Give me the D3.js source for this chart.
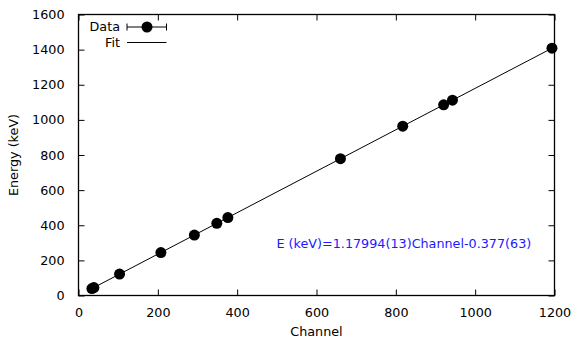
<!DOCTYPE html>
<html>
<head>
<meta charset="utf-8">
<script src="https://cdn.jsdelivr.net/npm/d3@7"></script>
<style>
  html, body { margin: 0; padding: 0; background: #fff; }
  svg { display: block; }
  text { font-family: "DejaVu Sans", sans-serif; }
</style>
</head>
<body>
<svg id="chart" width="572" height="343"></svg>
<script>
// Calibration peaks: channel position and known gamma energy (keV)
const channels = [33.8, 38.8, 103.5, 207.7, 292.1, 348.7, 376.5, 660.4, 817.4, 920.5, 942.8, 1193.6];
const energies = [39.5, 45.4, 121.8, 244.7, 344.3, 411.1, 443.9, 778.9, 964.1, 1085.8, 1112.1, 1408.0];

// Linear fit result
const slope = 1.17994;
const intercept = -0.377;
const fitLabel = "E (keV)=1.17994(13)Channel-0.377(63)";

const xTicks = [0, 200, 400, 600, 800, 1000, 1200];
const yTicks = [0, 200, 400, 600, 800, 1000, 1200, 1400, 1600];

const svg = d3.select("#chart");
const m = { left: 78.5, right: 554.5, top: 14.5, bottom: 295.5 };
const fs = "12.75px";

const x = d3.scaleLinear().domain([0, 1200]).range([m.left, m.right]);
const y = d3.scaleLinear().domain([0, 1600]).range([m.bottom, m.top]);

const tickLen = 6;
const fmt = d3.format("d");

// axes with inward ticks on all four sides
const axB = svg.append("g").attr("transform", `translate(0,${m.bottom})`)
  .call(d3.axisBottom(x).tickValues(xTicks).tickFormat(fmt).tickSizeInner(-tickLen).tickSizeOuter(0).tickPadding(tickLen + 6));
const axT = svg.append("g").attr("transform", `translate(0,${m.top})`)
  .call(d3.axisTop(x).tickValues(xTicks).tickSizeInner(-tickLen).tickSizeOuter(0).tickFormat(""));
const axL = svg.append("g").attr("transform", `translate(${m.left},0)`)
  .call(d3.axisLeft(y).tickValues(yTicks).tickFormat(fmt).tickSizeInner(-tickLen).tickSizeOuter(0).tickPadding(tickLen + 8));
const axR = svg.append("g").attr("transform", `translate(${m.right},0)`)
  .call(d3.axisRight(y).tickValues(yTicks).tickSizeInner(-tickLen).tickSizeOuter(0).tickFormat(""));

[axB, axT, axL, axR].forEach(g => {
  g.select(".domain").remove();
  g.selectAll(".tick line").attr("stroke", "#000").attr("stroke-width", 1);
  g.selectAll(".tick text").attr("font-size", fs).attr("fill", "#000")
    .attr("font-family", "DejaVu Sans, sans-serif");
});

// frame
svg.append("rect")
  .attr("x", m.left).attr("y", m.top)
  .attr("width", m.right - m.left).attr("height", m.bottom - m.top)
  .attr("fill", "none").attr("stroke", "#000").attr("stroke-width", 1.3);

// fit line over the measured range
const xMin = d3.min(channels), xMax = d3.max(channels);
svg.append("line")
  .attr("x1", x(xMin)).attr("y1", y(slope * xMin + intercept))
  .attr("x2", x(xMax)).attr("y2", y(slope * xMax + intercept))
  .attr("stroke", "#000").attr("stroke-width", 1);

// data points
svg.append("g").selectAll("circle")
  .data(channels.map((c, i) => ({ c, e: energies[i] })))
  .join("circle")
  .attr("cx", d => x(d.c)).attr("cy", d => y(d.e))
  .attr("r", 5.5).attr("fill", "#000");

// axis titles
svg.append("text").attr("x", (m.left + m.right) / 2).attr("y", 336)
  .attr("text-anchor", "middle").attr("font-size", fs).text("Channel");
svg.append("text")
  .attr("transform", `translate(18,${(m.top + m.bottom) / 2}) rotate(-90)`)
  .attr("text-anchor", "middle").attr("font-size", fs).text("Energy (keV)");

// fit equation
svg.append("text").attr("x", 276.5).attr("y", 247.5)
  .attr("font-size", fs).attr("fill", "#1a1aff").text(fitLabel);

// legend
const lg = svg.append("g");
lg.append("text").attr("x", 120).attr("y", 31).attr("text-anchor", "end")
  .attr("font-size", fs).text("Data");
lg.append("line").attr("x1", 127).attr("x2", 166.5).attr("y1", 27).attr("y2", 27)
  .attr("stroke", "#000").attr("stroke-width", 1);
[127, 166.5].forEach(px => lg.append("line").attr("x1", px).attr("x2", px)
  .attr("y1", 23.5).attr("y2", 30.5).attr("stroke", "#000").attr("stroke-width", 1));
lg.append("circle").attr("cx", 147).attr("cy", 27).attr("r", 5.5).attr("fill", "#000");
lg.append("text").attr("x", 120).attr("y", 47).attr("text-anchor", "end")
  .attr("font-size", fs).text("Fit");
lg.append("line").attr("x1", 127).attr("x2", 166.5).attr("y1", 42.5).attr("y2", 42.5)
  .attr("stroke", "#000").attr("stroke-width", 1);
</script>
</body>
</html>
